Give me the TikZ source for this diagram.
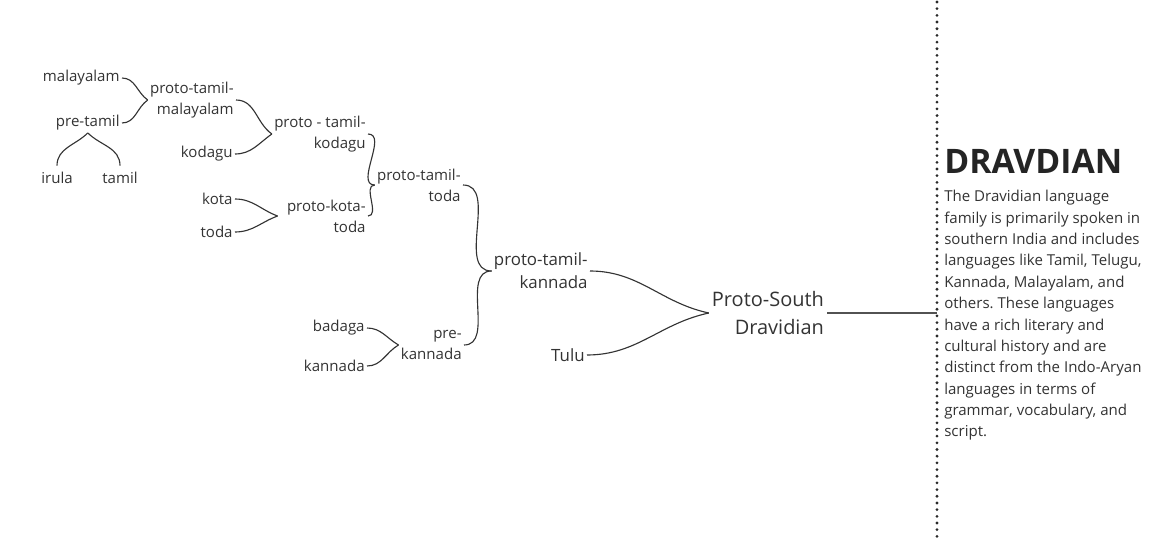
\documentclass[tikz,border=0pt]{standalone}
\usepackage{fontspec}
\setmainfont{Open Sans}
\usetikzlibrary{positioning,calc}
\definecolor{ink}{HTML}{333333}
\frenchspacing
\begin{document}
\begin{tikzpicture}[x=0.025cm, y=0.025cm]

% Define styles
\tikzstyle{lang} = [inner sep=1.5pt, align=right, text=ink, font=\fontsize{10.7}{15}\selectfont]
\tikzstyle{branch} = [inner sep=1.5pt, align=right, text=ink, font=\fontsize{12}{16.4}\selectfont]
\tikzstyle{root} = [inner sep=2pt, align=right, text=ink, font=\fontsize{14.2}{20}\selectfont]
\tikzstyle{link} = [draw=ink, line width=0.8pt]
\tikzstyle{stem} = [draw=ink!85, line width=0.85pt]
\tikzstyle{divider} = [draw=ink!80!black, line width=2.2pt, line cap=round, dash pattern=on 0pt off 4.75pt]

\useasboundingbox (0,0) rectangle (1167,-539);

% LEAF LANGUAGES
\node (malayalam) [lang, anchor=east] at (122,-78) {malayalam};
\node (pretamil) [lang, anchor=east] at (122,-123) {pre-tamil};
\node (irula) [lang] at (57,-178) {irula};
\node (tamil) [lang] at (120,-178) {tamil};
\node (kodagu) [lang, anchor=east] at (235,-154) {kodagu};
\node (kota) [lang, anchor=east] at (235,-199) {kota};
\node (toda) [lang, anchor=east] at (235,-232) {toda};
\node (badaga) [lang, anchor=east] at (367,-328) {badaga};
\node (kannada) [lang, anchor=east] at (367,-366) {kannada};

% PROTO BRANCHES
\node (ptm) [lang, anchor=east] at (236,-100) {proto-tamil-\\malayalam};
\node (ptk) [lang, anchor=east] at (368,-134) {proto - tamil-\\kodagu};
\node (pkt) [lang, anchor=east] at (368,-216) {proto-kota-\\toda};
\node (ptoda) [lang, anchor=east] at (463,-185) {proto-tamil-\\toda};
\node (prekan) [lang, anchor=east] at (464,-345) {pre-\\kannada};
\node (ptka) [branch, anchor=east] at (590,-271) {proto-tamil-\\kannada};
\node (tulu) [branch, anchor=east] at (587,-355) {Tulu};
\node (psd) [root, anchor=east] at (827,-313) {Proto-South\\Dravidian};

% Brackets between children and parents
\draw [link] (malayalam.east) to[out=0, in=145] (ptm.west);
\draw [link] (pretamil.east) to[out=0, in=-145] (ptm.west);
\draw [link] ([yshift=3pt]irula.north) to[out=90, in=-135] (pretamil.south);
\draw [link] ([yshift=3pt]tamil.north) to[out=90, in=-45] (pretamil.south);
\draw [link] (ptm.east) to[out=0, in=145] (ptk.west);
\draw [link] (kodagu.east) to[out=0, in=-145] (ptk.west);
\draw [link] (kota.east) to[out=0, in=160] ([xshift=-5pt]pkt.west);
\draw [link] (toda.east) to[out=0, in=-160] ([xshift=-5pt]pkt.west);
\draw [link] (ptk.east) to[out=0, in=180] (ptoda.west);
\draw [link] (pkt.east) to[out=0, in=180] (ptoda.west);
\draw [link] (badaga.east) to[out=0, in=150] (prekan.west);
\draw [link] (kannada.east) to[out=0, in=-150] (prekan.west);
\draw [link] (ptoda.east) to[out=0, in=180] (ptka.west);
\draw [link] (prekan.east) to[out=0, in=180] (ptka.west);
\draw [link] (ptka.east) to[out=0, in=168] (psd.west);
\draw [link] (tulu.east) to[out=0, in=-168] (psd.west);

% DIVIDER
\coordinate (divtop) at (937,-2);
\coordinate (divbot) at (937,-539);
\draw [divider] (divtop) -- (divbot);
\draw [stem] (psd.east) -- (psd.east -| divtop);

% DESCRIPTION
\node (title) [anchor=base west, inner sep=0pt, text=ink!70!black, font=\fontsize{24}{28}\selectfont\bfseries] at (944,-173) {DRAVDIAN};
\node (about) [below=12pt of title.south west, anchor=north west, inner sep=0pt, align=left, text=ink, font=\fontsize{10.7}{15.2}\selectfont] {The Dravidian language\\family is primarily spoken in\\southern India and includes\\languages like Tamil, Telugu,\\Kannada, Malayalam, and\\others. These languages\\have a rich literary and\\cultural history and are\\distinct from the Indo-Aryan\\languages in terms of\\grammar, vocabulary, and\\script.};

\end{tikzpicture}
\end{document}
